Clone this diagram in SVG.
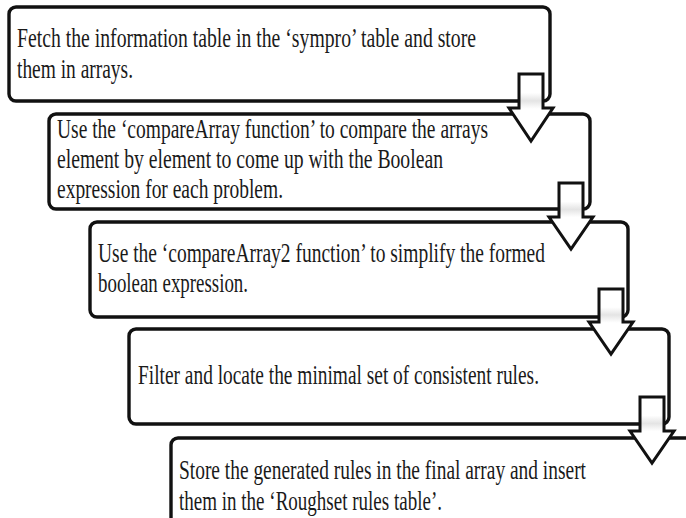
<svg xmlns="http://www.w3.org/2000/svg" width="686" height="518" viewBox="0 0 686 518">
<defs>
<linearGradient id="ag" x1="0" y1="0" x2="0" y2="1">
<stop offset="0" stop-color="#ffffff"/>
<stop offset="0.28" stop-color="#ffffff"/>
<stop offset="0.4" stop-color="#e4e4e4"/>
<stop offset="0.52" stop-color="#ffffff"/>
<stop offset="1" stop-color="#ffffff"/>
</linearGradient>
</defs>
<style>
.box{fill:#fff;stroke:#111;stroke-width:3.4}
.t{font-family:"Liberation Serif","Times New Roman",serif;font-size:28px;fill:#1a1a1a}
.arr{fill:url(#ag);stroke:#111;stroke-width:3;stroke-linejoin:miter}
</style>
<rect width="686" height="518" fill="#fff"/>
<g id="node1">
<rect class="box" x="9" y="7" width="541" height="94" rx="7"/>
<text class="t" x="17" y="47" textLength="459" lengthAdjust="spacingAndGlyphs">Fetch the information table in the ‘sympro’ table and store</text>
<text class="t" x="17" y="78" textLength="116" lengthAdjust="spacingAndGlyphs">them in arrays.</text>
</g>
<g id="node2">
<rect class="box" x="49" y="114" width="541" height="95" rx="7"/>
<text class="t" x="57" y="138" textLength="431" lengthAdjust="spacingAndGlyphs">Use the ‘compareArray function’ to compare the arrays</text>
<text class="t" x="57" y="168" textLength="386" lengthAdjust="spacingAndGlyphs">element by element to come up with the Boolean</text>
<text class="t" x="57" y="198" textLength="226" lengthAdjust="spacingAndGlyphs">expression for each problem.</text>
</g>
<g id="node3">
<rect class="box" x="90" y="222" width="538" height="95" rx="7"/>
<text class="t" x="98" y="262" textLength="447" lengthAdjust="spacingAndGlyphs">Use the ‘compareArray2 function’ to simplify the formed</text>
<text class="t" x="98" y="292" textLength="150" lengthAdjust="spacingAndGlyphs">boolean expression.</text>
</g>
<g id="node4">
<rect class="box" x="129" y="329" width="540" height="95" rx="7"/>
<text class="t" x="138" y="384" textLength="401" lengthAdjust="spacingAndGlyphs">Filter and locate the minimal set of consistent rules.</text>
</g>
<g id="node5">
<rect class="box" x="171" y="438" width="560" height="120" rx="7"/>
<text class="t" x="179" y="479" textLength="407" lengthAdjust="spacingAndGlyphs">Store the generated rules in the final array and insert</text>
<text class="t" x="179" y="510" textLength="263" lengthAdjust="spacingAndGlyphs">them in the ‘Roughset rules table’.</text>
</g>
<g id="connectors">
<path class="arr" d="M519,74 H543 V108 H553 L531,141 L509,108 H519 Z"/>
<path class="arr" d="M559,183 H583 V217 H593 L571,249 L549,217 H559 Z"/>
<path class="arr" d="M599,289 H623 V322 H633 L611,354 L589,322 H599 Z"/>
<path class="arr" d="M640,397 H664 V431 H674 L652,463 L630,431 H640 Z"/>
</g>
</svg>
